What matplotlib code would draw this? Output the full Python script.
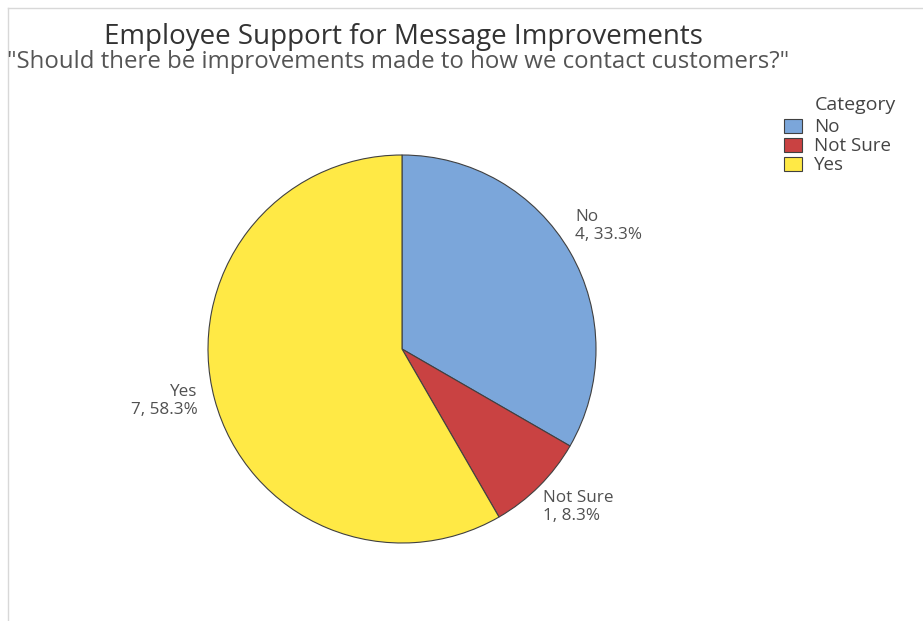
import matplotlib.pyplot as plt
from matplotlib.patches import Patch
from matplotlib.lines import Line2D
import numpy as np

categories = ["No", "Not Sure", "Yes"]
counts = [4, 1, 7]
colors = ["#7BA6DA", "#C94242", "#FFE945"]

title = "Employee Support for Message Improvements"
subtitle = "\"Should there be improvements made to how we contact customers?\""

plt.rcParams['font.family'] = ['Open Sans', 'DejaVu Sans']

W, H = 923, 621
fig = plt.figure(figsize=(W / 100, H / 100), dpi=100)

# light frame on top / left
fig.add_artist(Line2D([8 / W, 1], [1 - 8 / H, 1 - 8 / H], color="#d8d8d8", lw=1))
fig.add_artist(Line2D([8 / W, 8 / W], [0, 1 - 8 / H], color="#d8d8d8", lw=1))

cx, cy, r = 402, 349, 194
ax = fig.add_axes([(cx - r) / W, (H - cy - r) / H, 2 * r / W, 2 * r / H])

wedges, _ = ax.pie(counts, colors=colors, startangle=90, counterclock=False,
                   wedgeprops={'edgecolor': '#404040', 'linewidth': 0.8})
ax.set_xlim(-1, 1)
ax.set_ylim(-1, 1)
ax.set_aspect('auto')

total = sum(counts)
for w, name, n in zip(wedges, categories, counts):
    ang = np.deg2rad((w.theta1 + w.theta2) / 2)
    x, y = 1.03 * np.cos(ang), 1.03 * np.sin(ang)
    ha = 'left' if x > 0 else 'right'
    if y > 0.3:
        va = 'bottom'
        y += 0.03
    elif y < -0.3:
        va = 'top'
    else:
        va = 'center'
        x -= 0.06
    ax.text(x, y, f"{name}\n{n}, {100 * n / total:.1f}%", ha=ha, va=va,
            fontsize=12.3, color="#505050", linespacing=1.15, clip_on=False)

fig.text(403 / W, 1 - 37 / H, title, ha='center', va='center', fontsize=20, color="#333333")
fig.text(7 / W, 1 - 62 / H, subtitle, ha='left', va='center', fontsize=17.3, color="#555555")

fig.text(815 / W, 1 - 105 / H, "Category", ha='left', va='center', fontsize=14, color="#444444")
handles = [Patch(facecolor=c, edgecolor="#404040", linewidth=0.8) for c in colors]
fig.legend(handles, categories, loc='upper left', bbox_to_anchor=(775 / W, 1 - 109 / H),
           frameon=False, fontsize=13.5, handlelength=0.95, handleheight=0.75,
           handletextpad=0.65, labelspacing=0.05, borderpad=0, labelcolor="#444444")

fig.savefig("out.png", dpi=100)
